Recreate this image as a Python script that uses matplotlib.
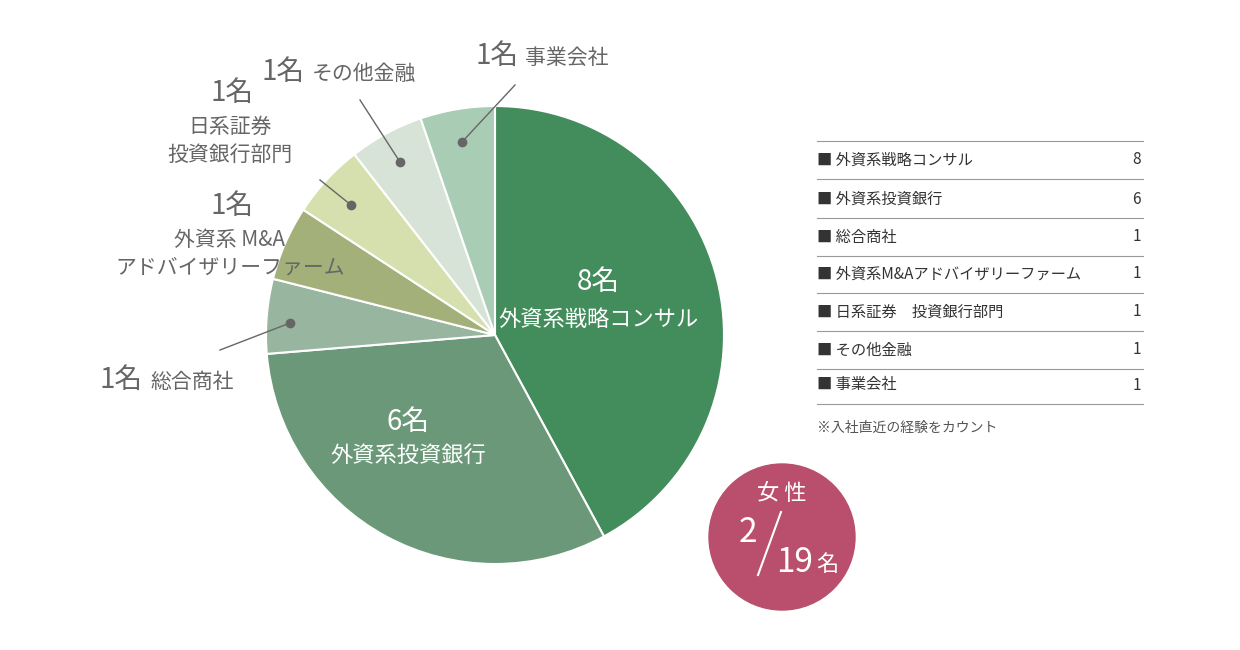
import numpy as np
import matplotlib.pyplot as plt
from matplotlib.patches import Circle

plt.rcParams["font.family"] = "Noto Sans CJK JP"

categories = ["外資系戦略コンサル", "外資系投資銀行", "総合商社", "外資系M&Aアドバイザリーファーム",
              "日系証券　投資銀行部門", "その他金融", "事業会社"]
counts = [8, 6, 1, 1, 1, 1, 1]
colors = ["#438c5c", "#6a9878", "#98b5a0", "#a3b07a", "#d6e0ae", "#d8e3d8", "#a9ccb4"]
women, total = 2, 19

W, H = 1240, 650
fig = plt.figure(figsize=(W / 100, H / 100), dpi=100)

def px(x, y):
    return x / W, 1 - y / H

cx, cy, r = 495, 335, 229
ax = fig.add_axes([(cx - r) / W, 1 - (cy + r) / H, 2 * r / W, 2 * r / H])
ax.pie(counts, colors=colors, startangle=90, counterclock=False,
       wedgeprops=dict(edgecolor="white", linewidth=1.5))
ax.set_xlim(-1, 1)
ax.set_ylim(-1, 1)
ax.set_aspect("auto")
ax.axis("off")

# inner labels
ax.text(0.45, 0.23, f"{counts[0]}名", color="white", fontsize=20, ha="center", va="center")
ax.text(0.45, 0.07, categories[0], color="white", fontsize=16, ha="center", va="center")
ax.text(-0.38, -0.38, f"{counts[1]}名", color="white", fontsize=20, ha="center", va="center")
ax.text(-0.38, -0.53, categories[1], color="white", fontsize=16, ha="center", va="center")

# outer labels with leader lines (pixel coords)
grey = "#666666"
leaders = [((290, 323), (220, 350)), ((351, 205), (320, 180)),
           ((400, 162), (360, 100)), ((462, 142), (515, 85))]
for (x0, y0), (x1, y1) in leaders:
    fig.add_artist(plt.Line2D([x0 / W, x1 / W], [1 - y0 / H, 1 - y1 / H], color=grey, lw=1))
    fig.add_artist(plt.Line2D([x0 / W], [1 - y0 / H], marker="o", ms=6, color=grey))

def lab(x, y, s, size=15, ha="center"):
    fig.text(*px(x, y), s, fontsize=size, color=grey, ha=ha, va="center")

lab(100, 380, f"{counts[2]}名", 20, "left"); lab(150, 382, "総合商社", 15, "left")
lab(232, 206, f"{counts[3]}名", 20); lab(230, 240, "外資系 M&A"); lab(230, 268, "アドバイザリーファーム")
lab(232, 93, f"{counts[4]}名", 20); lab(230, 127, "日系証券"); lab(230, 155, "投資銀行部門")
lab(262, 72, f"{counts[5]}名", 20, "left"); lab(312, 74, "その他金融", 15, "left")
lab(476, 56, f"{counts[6]}名", 20, "left"); lab(525, 58, "事業会社", 15, "left")

# legend table
rows_y = [160, 199, 237, 274, 312, 350, 385]
for i, (name, n) in enumerate(zip(categories, counts)):
    y = rows_y[i]
    fig.text(*px(817, y), "■ " + name, fontsize=11, color="#333333", ha="left", va="center")
    fig.text(*px(1141, y), str(n), fontsize=11, color="#333333", ha="right", va="center")
    ly = 1 - (y + 19) / H
    fig.add_artist(plt.Line2D([817 / W, 1143 / W], [ly, ly], color="#999999", lw=0.8))
fig.add_artist(plt.Line2D([817 / W, 1143 / W], [1 - 141 / H] * 2, color="#999999", lw=0.8))
fig.text(*px(817, 428), "※入社直近の経験をカウント", fontsize=10, color="#555555", ha="left", va="center")

# women circle
cax = fig.add_axes([0, 0, 1, 1], facecolor="none")
cax.set_xlim(0, W); cax.set_ylim(H, 0); cax.axis("off")
cax.add_patch(Circle((782, 537), 73, color="#b94f6c"))
cax.text(782, 494, "女 性", color="white", fontsize=16, ha="center", va="center")
cax.text(748, 533, str(women), color="white", fontsize=24, ha="center", va="center")
cax.plot([758, 781], [575, 512], color="white", lw=1.5)
cax.text(795, 562, str(total), color="white", fontsize=24, ha="center", va="center")
cax.text(827, 564, "名", color="white", fontsize=16, ha="center", va="center")

fig.savefig("out.png", dpi=100)
